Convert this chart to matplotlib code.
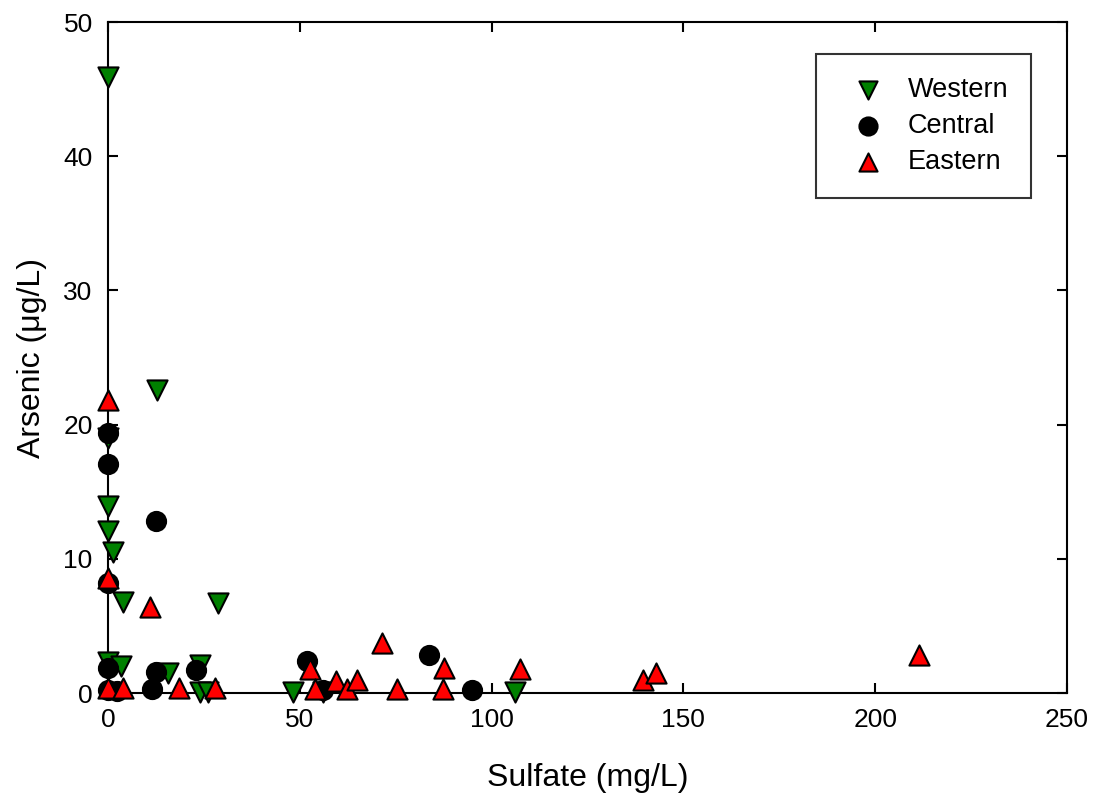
import matplotlib
matplotlib.use("Agg")
import matplotlib.pyplot as plt

plt.rcParams['font.family'] = ['Liberation Sans', 'DejaVu Sans']

# Western (green, down triangles)
west_x = [0, 0, 0, 0, 1.3, 3.9, 28.6, 12.8, 0, 3.5, 15.6, 24, 24, 26, 48.2, 56, 106]
west_y = [45.9, 19.0, 13.9, 12.1, 10.5, 6.8, 6.7, 22.6, 2.3, 2.0, 1.5, 2.1, 0.1, 0.1, 0.1, 0.1, 0.1]

# Central (black circles)
cent_x = [0, 0, 12.6, 0, 0, 12.6, 23, 11.6, 0, 2.3, 51.8, 56, 83.7, 94.9]
cent_y = [19.4, 17.1, 12.8, 8.2, 1.9, 1.6, 1.7, 0.3, 0.2, 0.15, 2.4, 0.2, 2.8, 0.2]

# Eastern (red, up triangles)
east_x = [0, 0, 11, 0, 4, 18.5, 28, 71.4, 52.7, 54, 59.4, 62.3, 64.9, 75.4, 87.6, 87.3,
          107.4, 139.5, 142.9, 211.4]
east_y = [21.8, 8.6, 6.4, 0.4, 0.4, 0.35, 0.35, 3.7, 1.8, 0.3, 0.9, 0.3, 1.0, 0.3, 1.9, 0.3,
          1.8, 1.0, 1.5, 2.8]

x_ticks = [0, 50, 100, 150, 200, 250]
y_ticks = [0, 10, 20, 30, 40, 50]

fig = plt.figure(figsize=(10.93, 7.95), dpi=100)
ax = fig.add_axes([0.0988, 0.1283, 0.8774, 0.844])

ax.scatter(west_x, west_y, marker='v', s=210, facecolor='#008000', edgecolor='black',
           linewidth=1.5, clip_on=False, zorder=3, label='Western')
ax.scatter(cent_x, cent_y, marker='o', s=190, facecolor='black', edgecolor='black',
           linewidth=1.5, clip_on=False, zorder=4, label='Central')
ax.scatter(east_x, east_y, marker='^', s=210, facecolor='#ff0000', edgecolor='black',
           linewidth=1.5, clip_on=False, zorder=5, label='Eastern')

ax.set_xlim(0, 250)
ax.set_ylim(0, 50)
ax.set_xticks(x_ticks)
ax.set_yticks(y_ticks)
ax.tick_params(direction='in', length=7, width=1.5, labelsize=19, pad=11,
               top=True, right=True)
for sp in ax.spines.values():
    sp.set_linewidth(1.5)

ax.set_xlabel('Sulfate (mg/L)', fontsize=23, labelpad=22)
ax.set_ylabel('Arsenic (μg/L)', fontsize=23, labelpad=12)

leg = ax.legend(loc='upper right', bbox_to_anchor=(0.9625, 0.952), borderaxespad=0,
                fontsize=19.5, frameon=True, fancybox=False, edgecolor='black',
                borderpad=0.85, handlelength=2.1, handletextpad=0.42, labelspacing=0.36,
                scatterpoints=1)
leg.get_frame().set_linewidth(1.5)
for h in leg.legend_handles:
    h.set_sizes([170])

fig.savefig('out.png', dpi=100, facecolor='white')
